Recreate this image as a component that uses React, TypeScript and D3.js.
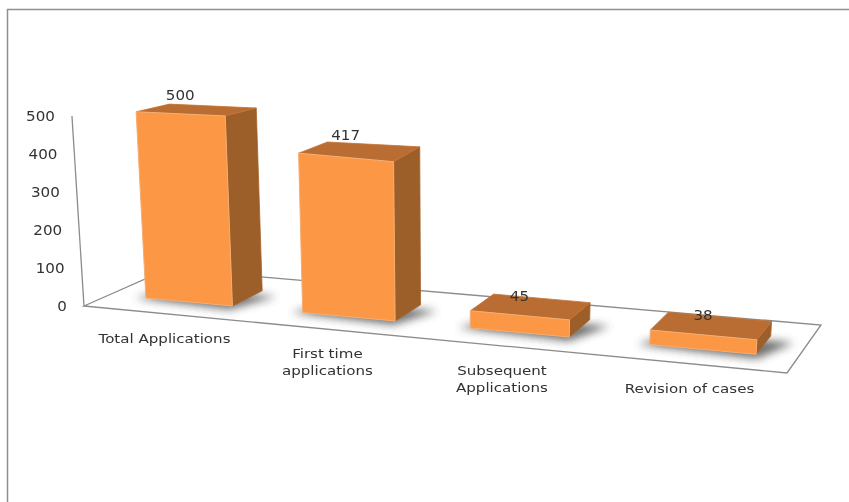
import * as d3 from "d3";
import React, { useEffect, useRef } from "react";

const categories = ["Total Applications", "First time applications", "Subsequent Applications", "Revision of cases"];
const categoryLines = [["Total Applications"], ["First time", "applications"], ["Subsequent", "Applications"], ["Revision of cases"]];
const values = [500, 417, 45, 38];
const yTicks = [0, 100, 200, 300, 400, 500];

const width = 849;
const height = 502;

// floor corners: front left, front right, back right, back left
const floor = [
  [84, 306],
  [787, 373],
  [821, 325],
  [168, 269],
];

// unit square -> floor quad
function makeHomography(q: number[][]) {
  const [[x0, y0], [x1, y1], [x2, y2], [x3, y3]] = q;
  const dx1 = x1 - x2;
  const dx2 = x3 - x2;
  const sx = x0 - x1 + x2 - x3;
  const dy1 = y1 - y2;
  const dy2 = y3 - y2;
  const sy = y0 - y1 + y2 - y3;
  const det = dx1 * dy2 - dx2 * dy1;
  const g = (sx * dy2 - dx2 * sy) / det;
  const h = (dx1 * sy - sx * dy1) / det;
  const a = x1 - x0 + g * x1;
  const b = x3 - x0 + h * x3;
  const d = y1 - y0 + g * y1;
  const e = y3 - y0 + h * y3;
  return (u: number, v: number) => {
    const w = g * u + h * v + 1;
    return [(a * u + b * v + x0) / w, (d * u + e * v + y0) / w];
  };
}

export default function App() {
  const chartRef = useRef<SVGSVGElement>(null);

  useEffect(() => {
    const svg = d3.select(chartRef.current);
    svg.selectAll("*").remove();

    const onFloor = makeHomography(floor);
    const xScale = d3.scaleBand().domain(categories).range([0.01, 0.997]).paddingInner(0.44).paddingOuter(0.2);
    const yScale = d3.scaleLinear().domain([0, 500]).range([0, 191]);
    const vFront = 0.29;
    const vBack = 0.68;

    // uprights lean away from x=450 and shrink a little towards the back
    const project = (u: number, v: number, value: number) => {
      const [bx, by] = onFloor(u, v);
      const h = yScale(value) * Math.min(1, 1 + (by - 308) * 0.0025);
      return [bx + (bx - 450) * h * 0.000173, by - h];
    };
    const line: any = d3.line().curve(d3.curveLinearClosed);

    const defs = svg.append("defs");
    defs.append("filter").attr("id", "shadow").attr("x", "-30%").attr("y", "-80%").attr("width", "160%").attr("height", "260%")
      .append("feGaussianBlur").attr("stdDeviation", 4);
    defs.append("filter").attr("id", "soft").attr("filterUnits", "userSpaceOnUse")
      .attr("x", 0).attr("y", 0).attr("width", width).attr("height", height)
      .append("feGaussianBlur").attr("stdDeviation", 0.4);

    const root = svg.append("g").attr("filter", "url(#soft)");

    // page frame
    root.append("path").attr("d", `M7.5,${height}V9.5H${width}`).attr("fill", "none").attr("stroke", "#8f8f8f").attr("stroke-width", 1.5);

    // floor and value axis
    const grid = root.append("g").attr("fill", "none").attr("stroke", "#8c8c8c").attr("stroke-width", 1.3);
    grid.append("path").attr("d", line(floor));
    grid.append("path").attr("d", d3.line()([project(0, 0, 0), project(0, 0, 500)] as any));

    root.append("g").selectAll("text").data(yTicks).join("text")
      .attr("transform", (d) => {
        const [x, y] = project(0, 0, d);
        return `translate(${x - 17},${y + 5}) scale(1.12,1)`;
      })
      .attr("text-anchor", "end")
      .attr("font-family", "DejaVu Sans")
      .attr("font-size", 13.5)
      .attr("fill", "#333")
      .text((d) => d);

    // bars
    const bars = root.append("g").selectAll("g").data(values).join("g");
    bars.each(function (value, i) {
      const g = d3.select(this);
      const u0 = xScale(categories[i]) as number;
      const u1 = u0 + xScale.bandwidth();
      const p = (u: number, v: number, h: number) => project(u, v, h);

      g.append("path")
        .attr("d", line([
          p(u0 - 0.015, vFront - 0.02, 0),
          p(u1 + 0.005, vFront - 0.08, 0),
          p(u1 + 0.035, vBack - 0.1, 0),
          p(u0 + 0.02, vBack - 0.1, 0),
        ]))
        .attr("fill", "#3f3f3f")
        .attr("opacity", 0.75)
        .attr("filter", "url(#shadow)");

      // right side
      g.append("path")
        .attr("d", line([p(u1, vFront, 0), p(u1, vBack, 0), p(u1, vBack, value), p(u1, vFront, value)]))
        .attr("fill", "#9c5e2a")
        .attr("stroke", "#a5632c")
        .attr("stroke-width", 0.8)
        .attr("stroke-linejoin", "round");
      // top
      g.append("path")
        .attr("d", line([p(u0, vFront, value), p(u1, vFront, value), p(u1, vBack, value), p(u0, vBack, value)]))
        .attr("fill", "#b96d32")
        .attr("stroke", "#c47536")
        .attr("stroke-width", 0.8)
        .attr("stroke-linejoin", "round");
      // front
      g.append("path")
        .attr("d", line([p(u0, vFront, 0), p(u1, vFront, 0), p(u1, vFront, value), p(u0, vFront, value)]))
        .attr("fill", "#fb9745")
        .attr("stroke", "#f5ae74")
        .attr("stroke-width", 1)
        .attr("stroke-linejoin", "round");
    });

    // value labels, tall bars carry theirs a bit higher
    root.append("g").selectAll("text").data(values).join("text")
      .attr("transform", (d, i) => {
        const u = (xScale(categories[i]) as number) + xScale.bandwidth() / 2;
        const x = project(u, vFront, d)[0];
        const y = project(u, vBack, d)[1] + 4 - yScale(d) * 0.05;
        return `translate(${x},${y}) scale(1.12,1)`;
      })
      .attr("text-anchor", "middle")
      .attr("font-family", "DejaVu Sans")
      .attr("font-size", 13.5)
      .attr("fill", "#333")
      .text((d) => d);

    // category labels
    const labels = root.append("g").selectAll("text").data(categoryLines).join("text")
      .attr("text-anchor", "middle")
      .attr("font-family", "DejaVu Sans")
      .attr("font-size", 13)
      .attr("fill", "#333")
      .attr("transform", (_, i) => {
        const u = (xScale(categories[i]) as number) + xScale.bandwidth() / 2;
        const [x, y] = onFloor(u, 0);
        return `translate(${x},${y + 29}) scale(1.16,1)`;
      });
    labels.each(function (rows) {
      d3.select(this).selectAll("tspan").data(rows).join("tspan")
        .attr("x", 0)
        .attr("y", (_, j) => j * 17)
        .text((d) => d);
    });
  }, []);

  return (
    <svg
      ref={chartRef}
      width={width}
      height={height}
      style={{ position: "absolute", left: 0, top: 0, background: "#fff" }}
    />
  );
}
